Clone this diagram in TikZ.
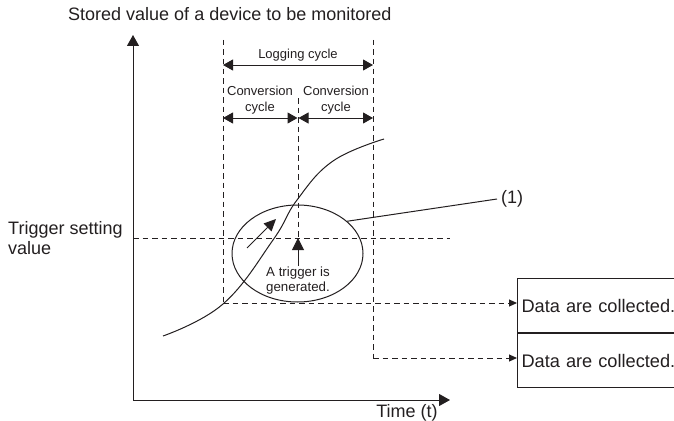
\documentclass[tikz,border=0pt]{standalone}
\usepackage{fontspec}
\setmainfont{Liberation Sans}
\usetikzlibrary{arrows.meta,shapes.geometric}
\definecolor{ink}{HTML}{231F20}
\tikzset{
  ln/.style={draw=ink,line width=1pt},
  dsh/.style={ln,dash pattern=on 5.5pt off 4pt},
  bighead/.style={-{Triangle[length=11pt,width=12pt]}},
  bothhead/.style={{Triangle[length=10pt,width=11pt]}-{Triangle[length=10pt,width=11pt]}},
  smallhead/.style={-{Triangle[length=8pt,width=7pt]}},
  bigtxt/.style={text=ink,font=\fontsize{18}{20}\selectfont,inner sep=1pt},
  smalltxt/.style={text=ink,font=\fontsize{13}{16}\selectfont,inner sep=1pt,align=center},
  databox/.style={ln,anchor=north west,minimum height=54pt,text width=170pt,inner sep=4pt,align=left,text=ink,font=\fontsize{18.2}{20}\selectfont},
}
\begin{document}
\begin{tikzpicture}[x=1pt,y=-1pt]
\useasboundingbox (0,0) rectangle (674,420);
\clip (0,0) rectangle (674,420);
% axes
\coordinate (O) at (133,400);
\coordinate (Ytop) at (133,35);
\coordinate (Xend) at (450,400);
\draw[ln,bighead] (O) -- (Ytop);
\draw[ln,bighead] (O) -- (Xend);
\node[bigtxt,anchor=west] (ylab) at (67,14) {Stored value of a device to be monitored};
\node[bigtxt] (xlab) at (407,413) {Time (t)};
\node[bigtxt,anchor=west,align=left,font=\fontsize{18}{20}\selectfont] (tlab) at (7,238) {Trigger setting\\value};
% trigger level
\coordinate (T0) at (133,238);
\coordinate (T1) at (450,238);
\draw[dsh] (T0) -- (T1);
% data boxes
\node[databox] (d1) at (517,278) {Data are collected.};
\node[databox] (d2) at (d1.south west) {Data are collected.};
% vertical dashed lines
\coordinate (Ltop) at (223,40);
\coordinate (Lbot) at (223,303);
\coordinate (Mtop) at (298,98);
\coordinate (Mbot) at (298,238);
\coordinate (Rtop) at (373,40);
\coordinate (Rbot) at (373,358);
\draw[dsh] (Ltop) -- (Lbot);
\draw[dsh] (Mtop) -- (Mbot);
\draw[dsh] (Rtop) -- (Rbot);
\draw[dsh,smallhead] (Lbot) -- (Lbot -| d1.west);
\draw[dsh,smallhead] (Rbot) -- (Rbot -| d2.west);
% cycles
\node[smalltxt] (logl) at (298,55) {Logging cycle};
\coordinate (LgA) at (223,65);
\coordinate (LgB) at (373,65);
\draw[ln,bothhead] (LgA) -- (LgB);
\node[smalltxt] (cv1) at (260,100) {Conversion\\cycle};
\node[smalltxt] (cv2) at (336,100) {Conversion\\cycle};
\coordinate (C1a) at (223,118);
\coordinate (C1b) at (297.5,118);
\coordinate (C2a) at (298.5,118);
\coordinate (C2b) at (373,118);
\draw[ln,bothhead] (C1a) -- (C1b);
\draw[ln,bothhead] (C2a) -- (C2b);
% curve
\draw[ln] plot[smooth,tension=0.7] coordinates {(163,336) (223,304) (273,240) (297,200) (333,161) (384,139)};
% ellipse
\node[ln,ellipse,minimum width=131pt,minimum height=97pt,inner sep=0pt] (ell) at (297.5,253.5) {};
\node[smalltxt,font=\fontsize{13.3}{15}\selectfont] (trig) at (298,281) {A trigger is\\generated.};
\draw[ln,-{Triangle[length=12pt,width=12pt]}] (trig.north) -- (Mbot);
\coordinate (dA) at (247,248);
\coordinate (dB) at (276,219);
\draw[ln,-{Triangle[length=12pt,width=11pt]}] (dA) -- (dB);
% leader
\node[bigtxt,anchor=west,inner sep=4pt] (one) at (497,199) {(1)};
\draw[ln] (ell.33) -- (one.west);
\end{tikzpicture}
\end{document}
